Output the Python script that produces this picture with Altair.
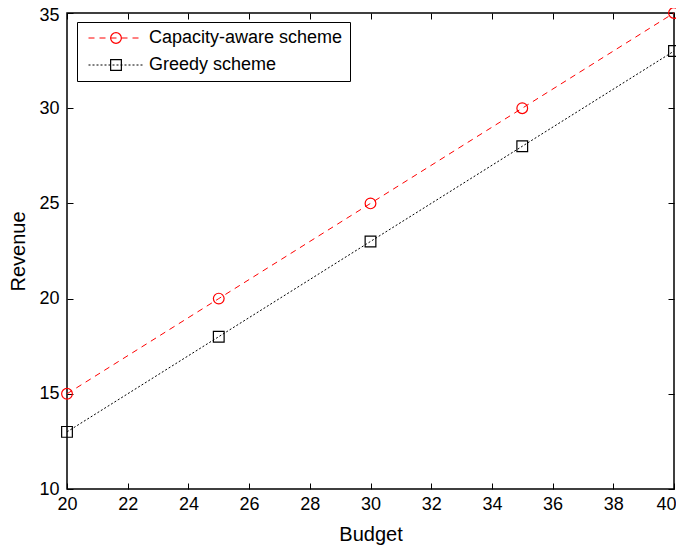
import altair as alt
import pandas as pd

budget = [20, 25, 30, 35, 40]
capacity_aware = [15, 20, 25, 30, 35]
greedy = [13, 18, 23, 28, 33]
series_names = ["Capacity-aware scheme", "Greedy scheme"]
x_ticks = [20, 22, 24, 26, 28, 30, 32, 34, 36, 38, 40]
y_ticks = [10, 15, 20, 25, 30, 35]

rows = []
for b, v in zip(budget, capacity_aware):
    rows.append({"Budget": b, "Revenue": v, "series": series_names[0]})
for b, v in zip(budget, greedy):
    rows.append({"Budget": b, "Revenue": v, "series": series_names[1]})
df = pd.DataFrame(rows)
df["series_m"] = df["series"]

FONT = "Liberation Sans"
xscale = alt.Scale(domain=[20, 40], nice=False, zero=False)
yscale = alt.Scale(domain=[10, 35], nice=False, zero=False)
colors = ["#ff0000", "#000000"]
color_expr = alt.ExprRef(expr="datum.value === 'Greedy scheme' ? 'black' : 'red'")

common_axis = dict(grid=False, domain=False, tickSize=6, offset=-6, tickColor="black",
                   tickWidth=1, labelFont=FONT, labelFontSize=18, labelColor="black",
                   labelFlush=False,
                   titleFont=FONT, titleFontSize=20, titleFontWeight="normal",
                   titleColor="black")

legend_common = dict(orient="none", legendX=10, legendY=9, title=None,
                     labelFont=FONT, labelFontSize=18, labelLimit=400,
                     rowPadding=9, padding=7, symbolOffset=23,
                     symbolFillColor="transparent", symbolStrokeColor=color_expr)

lines = alt.Chart(df).mark_line(strokeWidth=1).encode(
    x=alt.X("Budget:Q", scale=xscale,
            axis=alt.Axis(orient="bottom", values=x_ticks, labelPadding=6,
                          labelAlign=alt.ExprRef(expr="datum.value == 40 ? 'right' : 'center'"),
                          labelOffset=alt.ExprRef(expr="datum.value == 40 ? 2 : 0"),
                          titlePadding=11, title="Budget", **common_axis)),
    y=alt.Y("Revenue:Q", scale=yscale,
            axis=alt.Axis(orient="left", values=y_ticks, labelPadding=8,
                          labelOffset=alt.ExprRef(expr="datum.value == 35 ? 2 : 0"),
                          titlePadding=10, title="Revenue", **common_axis)),
    color=alt.Color("series:N", scale=alt.Scale(domain=series_names, range=colors),
                    legend=None),
    strokeDash=alt.StrokeDash("series:N",
                              scale=alt.Scale(domain=series_names, range=[[6, 5], [2, 2]]),
                              legend=alt.Legend(symbolType="M-5,0H5", symbolSize=121,
                                                symbolStrokeWidth=1, labelOffset=24,
                                                strokeColor="black", zindex=1,
                                                **legend_common)),
)

points = alt.Chart(df).mark_point(filled=False, size=115, strokeWidth=1.2, opacity=1).encode(
    x=alt.X("Budget:Q", scale=xscale,
            axis=alt.Axis(orient="top", values=x_ticks, labels=False, title=None, **common_axis)),
    y=alt.Y("Revenue:Q", scale=yscale,
            axis=alt.Axis(orient="right", values=y_ticks, labels=False, title=None, **common_axis)),
    color=alt.Color("series:N", scale=alt.Scale(domain=series_names, range=colors),
                    legend=None),
    shape=alt.Shape("series_m:N",
                    scale=alt.Scale(domain=series_names, range=["circle", "square"]),
                    legend=alt.Legend(symbolSize=115, symbolStrokeWidth=1.2,
                                      labelOffset=24, labelOpacity=0, zindex=2,
                                      **legend_common)),
)

chart = alt.layer(lines, points).resolve_scale(
    shape="independent", strokeDash="independent"
).resolve_axis(x="independent", y="independent").properties(
    width=607, height=476,
    background="white",
    autosize=alt.AutoSizeParams(type="none"),
    padding={"left": 59, "top": 5, "right": 2, "bottom": 57},
).configure_view(stroke="black", strokeWidth=1.5)

chart.save("out.html", embed_options={"renderer": "svg", "actions": False})
